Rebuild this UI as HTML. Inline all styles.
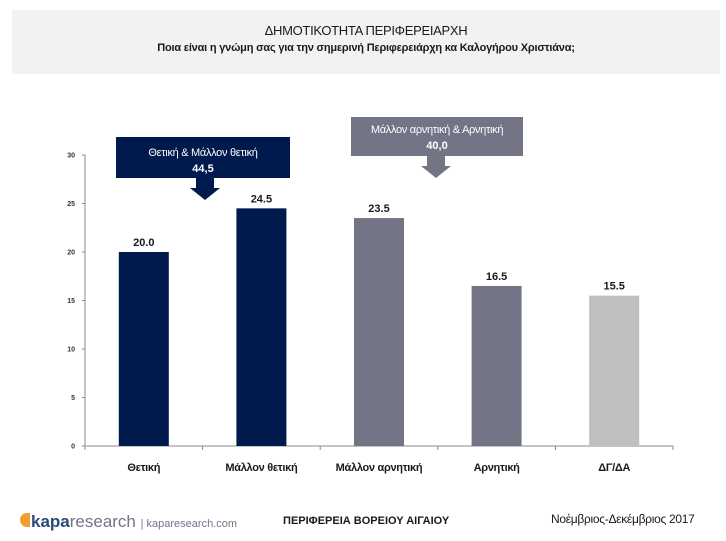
<!DOCTYPE html>
<html><head><meta charset="utf-8"><style>
body{margin:0;width:726px;height:541px;background:#fff;font-family:"Liberation Sans","DejaVu Sans",sans-serif;position:relative;overflow:hidden}
.a{position:absolute}
</style></head><body>
<div class="a" style="left:12px;top:10px;width:708px;height:64px;background:#f2f2f2"></div>
<div class="a" style="left:12px;width:708px;top:23px;text-align:center;font-size:13px;color:#1a1a1a;letter-spacing:-0.3px">ΔΗΜΟΤΙΚΟΤΗΤΑ ΠΕΡΙΦΕΡΕΙΑΡΧΗ</div>
<div class="a" style="left:12px;width:708px;top:42px;text-align:center;font-size:11px;font-weight:bold;color:#1a1a1a;letter-spacing:-0.2px">Ποια είναι η γνώμη σας για την σημερινή Περιφερειάρχη κα Καλογήρου Χριστιάνα;</div>
<svg class="a" style="left:0;top:0" width="726" height="541" id="c">
<g>
<rect x="116" y="137" width="174" height="41" fill="#001a4d"/>
<text x="203" y="156" text-anchor="middle" font-size="11" fill="#fff" letter-spacing="-0.3">Θετική &amp; Μάλλον θετική</text>
<text x="203" y="172" text-anchor="middle" font-size="11" font-weight="bold" fill="#fff">44,5</text>
<polygon points="196,178 214,178 214,188 220,188 205,200 190,188 196,188" fill="#001a4d"/>
</g>
<g>
<rect x="351" y="117" width="172" height="39" fill="#737587"/>
<text x="437" y="133" text-anchor="middle" font-size="11" fill="#fff" letter-spacing="-0.3">Μάλλον αρνητική &amp; Αρνητική</text>
<text x="437" y="149" text-anchor="middle" font-size="11" font-weight="bold" fill="#fff">40,0</text>
<polygon points="427,156 445,156 445,166 451,166 436,178 421,166 427,166" fill="#737587"/>
</g>
</svg>
<div class="a" style="left:20px;top:512px;font-size:17px;color:#737587"><span style="display:inline-block;width:10px;height:14px;background:#f0a030;border-radius:7px 0 0 7px;margin-right:1px"></span><b style="color:#2a4a7a">kapa</b>research <span style="font-size:11px">| kaparesearch.com</span></div>
<div class="a" style="left:283px;top:515px;font-size:11px;font-weight:bold;color:#1a1a1a">ΠΕΡΙΦΕΡΕΙΑ ΒΟΡΕΙΟΥ ΑΙΓΑΙΟΥ</div>
<div class="a" style="left:551px;top:512px;font-size:12px;color:#1a1a1a;letter-spacing:-0.3px">Νοέμβριος-Δεκέμβριος 2017</div>
<script>
const categories=["Θετική","Μάλλον θετική","Μάλλον αρνητική","Αρνητική","ΔΓ/ΔΑ"];
const values=[20.0,24.5,23.5,16.5,15.5];
const barColors=["#001a4d","#001a4d","#737587","#737587","#bfbfbf"];
const yTicks=[0,5,10,15,20,25,30];
const svg=document.getElementById('c');const NS="http://www.w3.org/2000/svg";
const x0=85,x1=673,y0=446,y1=155,ymax=30;
const bw=(x1-x0)/categories.length;
const Y=v=>y0-(v/ymax)*(y0-y1);
const X=i=>x0+bw*(i+0.5);
function mk(t,a){const e=document.createElementNS(NS,t);for(const k in a)e.setAttribute(k,a[k]);svg.appendChild(e);return e;}
let ax=mk('line',{x1:x0,y1:y1,x2:x0,y2:y0,stroke:'#888'});


let xa=mk('line',{x1:x0,y1:y0,x2:x1,y2:y0,stroke:'#888'});


yTicks.forEach(t=>{
 const l=mk('line',{x1:x0-3,y1:Y(t),x2:x0,y2:Y(t),stroke:'#888'});
 
 
 const tx=mk('text',{x:x0-10,y:Y(t)+2.5,'font-size':7,'font-weight':'bold','text-anchor':'end',fill:'#333'});
 tx.textContent=t;
 
 
});
for(let i=0;i<=categories.length;i++){
 const l=mk('line',{x1:x0+bw*i,y1:y0,x2:x0+bw*i,y2:y0+4,stroke:'#888'});
 
 
}
values.forEach((v,i)=>{
 const r=mk('rect',{x:X(i)-25,y:Y(v),width:50,height:y0-Y(v),fill:barColors[i]});
 
 
 const t=mk('text',{x:X(i),y:Y(v)-6,'font-size':11,'font-weight':'bold','text-anchor':'middle',fill:'#1a1a1a'});
 t.textContent=v.toFixed(1);
 
 
 const c=mk('text',{x:X(i),y:471,'font-size':11,'font-weight':'bold','letter-spacing':'-0.3','text-anchor':'middle',fill:'#1a1a1a'});
 c.textContent=categories[i];
 
 
});
</script>
</body></html>
